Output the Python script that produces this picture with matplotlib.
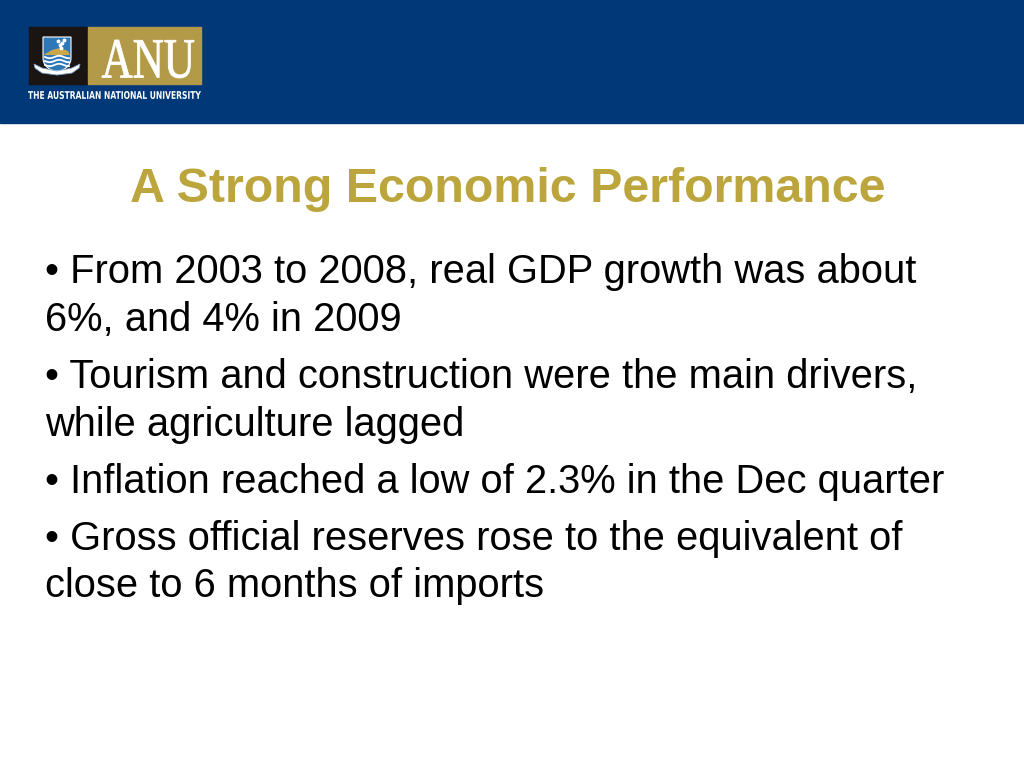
import matplotlib
matplotlib.use("Agg")
import matplotlib.pyplot as plt
from matplotlib.patches import Rectangle, Polygon, PathPatch
from matplotlib.textpath import TextPath
from matplotlib.font_manager import FontProperties
from matplotlib.transforms import Affine2D
import numpy as np

# ---- content ----
title = "A Strong Economic Performance"
bullet_lines = [
    "\u2022 From 2003 to 2008, real GDP growth was about",
    "6%, and 4% in 2009",
    "\u2022 Tourism and construction were the main drivers,",
    "while agriculture lagged",
    "\u2022 Inflation reached a low of 2.3% in the Dec quarter",
    "\u2022 Gross official reserves rose to the equivalent of",
    "close to 6 months of imports",
]
line_baselines = [283, 331, 388, 436, 493, 550, 597]
logo_word = "ANU"
logo_caption = "THE AUSTRALIAN NATIONAL UNIVERSITY"

BLUE = "#003878"
GOLD_BOX = "#B39A48"
GOLD_TITLE = "#BBA53C"

fig = plt.figure(figsize=(10.24, 7.68), dpi=100)
ax = fig.add_axes([0, 0, 1, 1])
ax.set_xlim(0, 1024)
ax.set_ylim(768, 0)
ax.axis("off")

# header band
ax.add_patch(Rectangle((0, 0), 1024, 123, color=BLUE, zorder=1))

# logo boxes
ax.add_patch(Rectangle((29, 27), 58, 57, color="#1a1412", zorder=2))
ax.add_patch(Rectangle((88, 27), 113, 57, color=GOLD_BOX, zorder=2))


def path_in_box(text, x0, x1, ytop, ybot, fp):
    tp = TextPath((0, 0), text, prop=fp, size=10)
    ext = tp.get_extents()
    sx = (x1 - x0) / ext.width
    sy = (ybot - ytop) / ext.height
    tr = (Affine2D().translate(-ext.x0, -ext.y0).scale(sx, -sy)
          .translate(x0, ybot))
    return tr.transform_path(tp)


p = path_in_box(logo_word, 102, 194, 40, 78,
                FontProperties(family="Liberation Serif"))
ax.add_patch(PathPatch(p, color="white", lw=0.6, zorder=3))
p = path_in_box(logo_caption, 28, 201, 91, 99,
                FontProperties(family="Liberation Sans Narrow", weight="bold"))
ax.add_patch(PathPatch(p, color="white", lw=0, zorder=3))

# shield
t = np.linspace(0, np.pi, 30)
shield = [(43, 37), (71, 37), (71, 58)] + \
    [(57 + 14 * np.cos(a), 58 + 13 * np.sin(a)) for a in t] + [(43, 58)]
ax.add_patch(Polygon(shield, closed=True, fc="#2f78b8", ec="white", lw=0.8, zorder=3))
ax.add_patch(Polygon([(45, 54), (52, 50), (60, 48), (68, 51), (70, 55), (44, 55)],
                     closed=True, fc="#c8a84a", lw=0, zorder=4))
for k, yy in enumerate([57, 61, 65]):
    xs = np.linspace(45, 69, 40)
    ax.plot(xs, yy + 1.2 * np.sin((xs - 45) / 3.0), color="white", lw=1.3, zorder=5)
for sx_, sy_ in [(58, 41), (62, 43), (60, 45), (64, 40), (61, 48)]:
    ax.plot(sx_, sy_, marker="*", color="white", ms=2.5, zorder=5)
# scroll
ax.add_patch(Polygon([(34, 64), (42, 68), (57, 71), (72, 68), (80, 64),
                      (79, 68), (72, 73), (57, 75), (42, 73), (35, 68)],
                     closed=True, fc="white", ec="#7fa8d0", lw=0.6, zorder=6))

# title
ax.text(508, 202, title, ha="center", va="baseline", color=GOLD_TITLE,
        fontsize=34.8, fontweight="bold", family="Liberation Sans", zorder=3)

# bullets
for line, yb in zip(bullet_lines, line_baselines):
    ax.text(45, yb, line, ha="left", va="baseline", color="black",
            fontsize=28.7, family="Liberation Sans", zorder=3)

fig.savefig("out.png", dpi=100)
